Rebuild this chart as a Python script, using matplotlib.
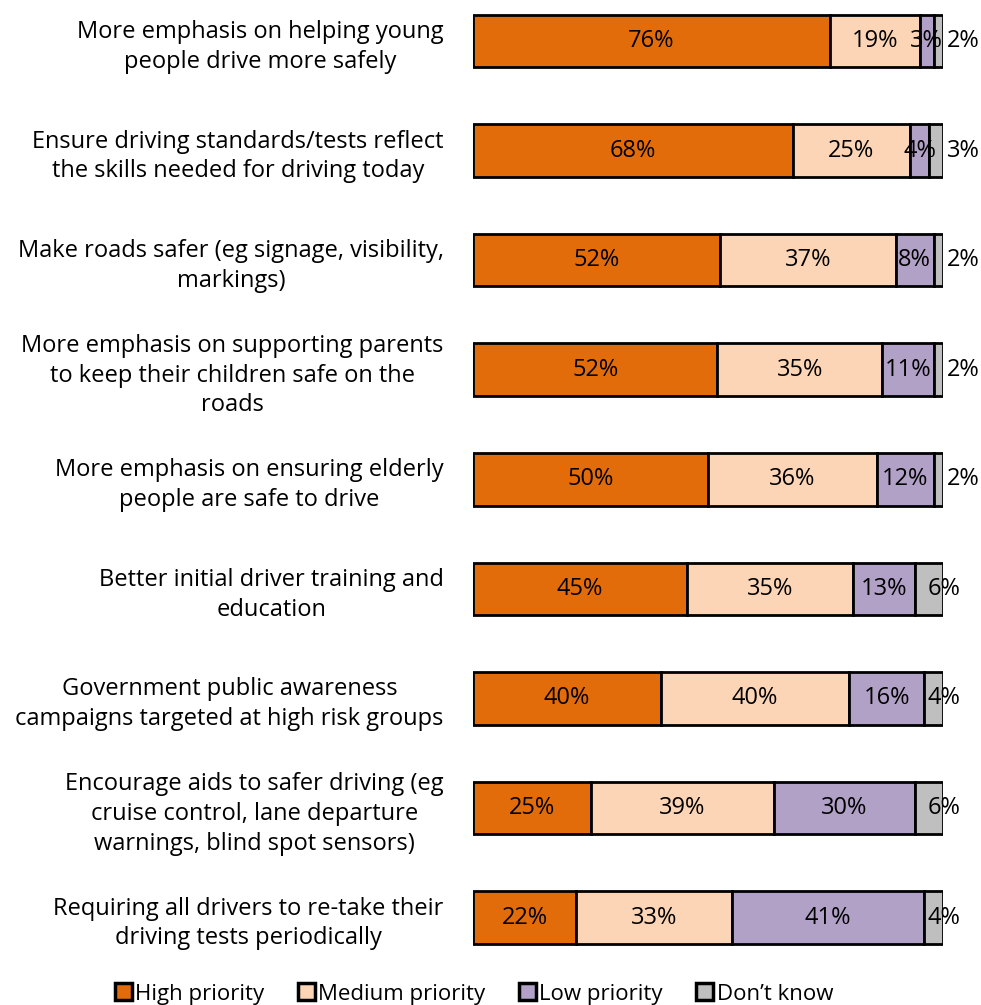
import matplotlib
matplotlib.use("Agg")
import matplotlib.pyplot as plt
from matplotlib.patches import Patch
import numpy as np

categories = [
    "More emphasis on helping young\npeople drive more safely",
    "Ensure driving standards/tests reflect\nthe skills needed for driving today",
    "Make roads safer (eg signage, visibility,\nmarkings)",
    "More emphasis on supporting parents\nto keep their children safe on the\nroads",
    "More emphasis on ensuring elderly\npeople are safe to drive",
    "Better initial driver training and\neducation",
    "Government public awareness\ncampaigns targeted at high risk groups",
    "Encourage aids to safer driving (eg\ncruise control, lane departure\nwarnings, blind spot sensors)",
    "Requiring all drivers to re-take their\ndriving tests periodically",
]
high = [76, 68, 52, 52, 50, 45, 40, 25, 22]
medium = [19, 25, 37, 35, 36, 35, 40, 39, 33]
low = [3, 4, 8, 11, 12, 13, 16, 30, 41]
dont_know = [2, 3, 2, 2, 2, 6, 4, 6, 4]
series_names = ["High priority", "Medium priority", "Low priority", "Don\u2019t know"]
colors = ["#E36C0A", "#FBD5B5", "#B2A1C7", "#BFBFBF"]

plt.rcParams['font.family'] = ['Open Sans', 'DejaVu Sans']

fig = plt.figure(figsize=(9.81, 10.05), dpi=100)
ax = fig.add_axes([473/981, 1 - 956/1005, (943-473)/981, (956-2.6)/1005])

data = np.array([high, medium, low, dont_know], dtype=float)
totals = data.sum(axis=0)
shares = data / totals * 100
y = np.arange(len(categories))
left = np.zeros(len(categories))
fs = 17
for k in range(4):
    ax.barh(y, shares[k], left=left, height=0.48, color=colors[k],
            edgecolor="black", linewidth=2, label=series_names[k])
    for i in range(len(categories)):
        v = data[k, i]
        c = left[i] + shares[k, i] / 2
        if k == 3:
            if v <= 3:
                ax.text(100.8, y[i], f"{int(v)}%", ha="left", va="center", fontsize=fs)
            else:
                ax.text(100.2, y[i], f"{int(v)}%", ha="center", va="center", fontsize=fs)
        else:
            ax.text(c, y[i], f"{int(v)}%", ha="center", va="center", fontsize=fs)
    left += shares[k]

ax.set_xlim(0, 100)
ax.set_ylim(8.35, -0.35)
ax.set_yticks(y)
ax.set_yticklabels(categories, fontsize=fs, multialignment="center", linespacing=1.32)
ax.tick_params(axis="y", length=0, pad=21)
ax.set_xticks([])
for s in ax.spines.values():
    s.set_visible(False)

handles = [Patch(facecolor=c, edgecolor="black", linewidth=2.5) for c in colors]
leg = fig.legend(handles, series_names, loc="center", bbox_to_anchor=(474/981, 1 - 994/1005),
                 ncol=4, frameon=False, fontsize=16, handlelength=0.77, handleheight=0.77,
                 handletextpad=0.15, columnspacing=1.5, borderpad=0, borderaxespad=0)

fig.savefig("out.png", dpi=100)
